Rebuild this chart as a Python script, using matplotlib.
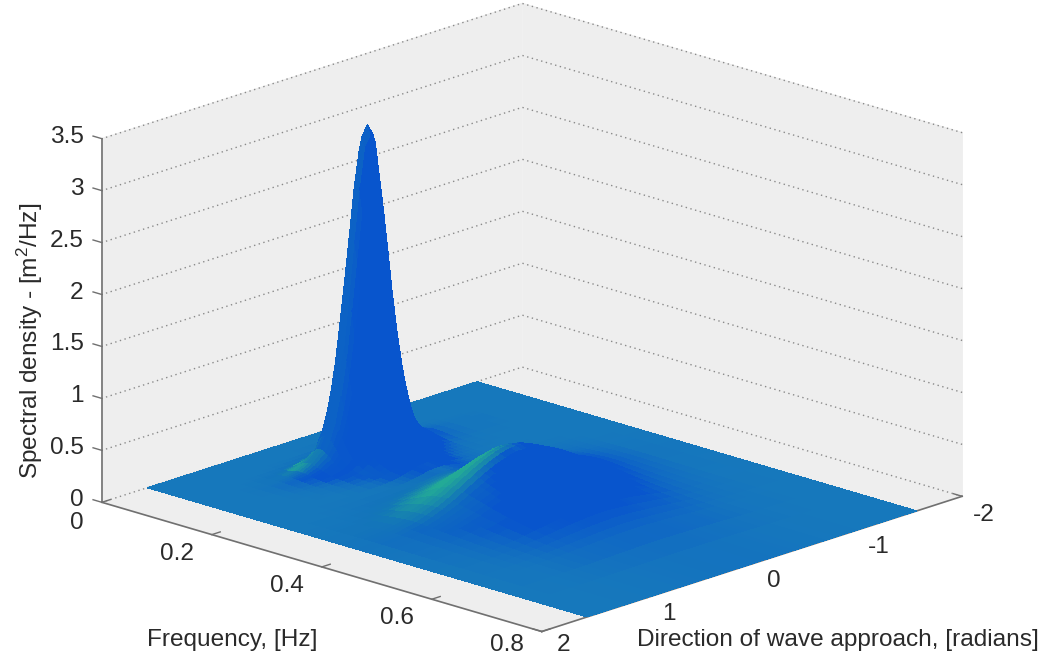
import numpy as np
import matplotlib
matplotlib.use("Agg")
import matplotlib.pyplot as plt
from mpl_toolkits.mplot3d import proj3d

plt.rcParams["font.family"] = ["Liberation Sans", "DejaVu Sans"]
plt.rcParams["mathtext.default"] = "regular"

# Surface is rebuilt from section curves:
# one f / direction pair for the tall peak, one for the low bump.
freq = [0, .03, .05, .06, .07, .08, .085, .09, .095, .10, .105, .11, .115, .12, .125, .13,
        .135, .14, .15, .16, .17, .18, .19, .20, .22, .24,
        .26, .27, .28, .29, .30, .31, .32, .33, .34, .35, .36, .37, .38, .39, .40, .41, .42,
        .43, .44, .45, .46, .47, .48, .49, .50, .52, .54, .56, .58, .60, .65, .70, .80]
peak_by_freq = [0, 0, .005, .03, .14, .55, .95, 1.48, 2.08, 2.65, 3.03, 3.17, 3.08, 2.83, 2.44, 2.02,
                1.62, 1.30, .80, .52, .36, .25, .18, .13, .085, .06,
                .04, .035, .03, .025, .02, .017, .015, .012, .01, .009, .008, .007, .006, .0055, .005, .0045, .004,
                .0035, .003, .0027, .0024, .002, .0017, .0013, .001, .0005, 0, 0, 0, 0, 0, 0, 0]
bump_by_freq = [0, 0, 0, 0, 0, 0, 0, 0, 0, 0, 0, 0, 0, 0, 0, 0,
                0, 0, 0, 0, 0, 0, 0, 0, .005, .015,
                .04, .06, .085, .12, .16, .21, .27, .33, .39, .44, .47, .49, .49, .47, .44, .41, .38,
                .35, .32, .29, .265, .24, .215, .195, .175, .14, .11, .085, .065, .05, .025, .01, 0]

direction = [-1.57, -1.4, -1.2, -1.1, -1, -.9, -.8, -.7, -.6, -.5, -.45, -.4, -.35, -.3, -.25, -.2, -.15, -.1, -.05, 0,
             .05, .1, .15, .2, .25, .3, .35, .4, .45, .5, .6, .7, .8, .9, 1, 1.1, 1.2, 1.4, 1.57]
peak_by_dir = [0, 0, 0, 0, .001, .001, .002, .004, .008, .02, .032, .05, .08, .12, .21, .33, .48, .66, .83, .97,
               1, .97, .85, .69, .52, .36, .24, .15, .095, .06, .028, .012, .006, .003, .001, 0, 0, 0, 0]
bump_by_dir = [0, .005, .02, .04, .07, .11, .17, .25, .37, .50, .57, .63, .69, .74, .79, .84, .89, .93, .97, .99,
               1, .99, .97, .94, .90, .86, .81, .76, .70, .64, .52, .40, .30, .21, .14, .09, .05, .01, 0]

freq_ticks = [0, 0.2, 0.4, 0.6, 0.8]
freq_labels = ["0", "0.2", "0.4", "0.6", "0.8"]
dir_ticks = [-2, -1, 0, 1, 2]
dir_labels = ["-2", "-1", "0", "1", "2"]
z_ticks = [0, 0.5, 1, 1.5, 2, 2.5, 3, 3.5]
z_labels = ["0", "0.5", "1", "1.5", "2", "2.5", "3", "3.5"]

FLAT = np.array([22, 120, 188]) / 255
BLUE = np.array([8, 85, 205]) / 255
GREEN = np.array([35, 170, 150]) / 255
TEXT = "#2a2a2a"
AXIS = "#707070"
FS = 17.6

f = np.array(freq)
d = np.array(direction)
Z_peak = np.outer(peak_by_freq, peak_by_dir)
Z = Z_peak + np.outer(bump_by_freq, bump_by_dir)
F, D = np.meshgrid(f, d, indexing="ij")

# fake the lit look of the original from the surface slope
dzdf, dzdd = np.gradient(Z, f, d)
sx, sy = dzdf * 0.144, dzdd * 0.72
nrm = np.sqrt(sx**2 + sy**2 + 1)
nx, ny = -sx / nrm, -sy / nrm
tall = np.clip(Z_peak / 0.3, 0, 1)
green = np.clip((ny - nx) / 1.414 / 0.5, 0, 1) * (1 - 0.85 * tall)
blue = np.maximum(np.clip(np.hypot(nx, ny) / 0.22, 0, 1), tall) * (1 - green)
colors = FLAT[None, None, :] + blue[..., None] * (BLUE - FLAT) + green[..., None] * (GREEN - FLAT)
colors = np.clip(colors, 0, 1)

fig = plt.figure(figsize=(10.43, 6.57), dpi=100)
W = 880
left = 532 - 0.5135 * W
bottom = (657 - 317.5) - 0.5135 * W
ax = fig.add_axes([left / 1043, bottom / 657, W / 1043, W / 657], projection="3d")
ax.set_proj_type("ortho")
ax.view_init(elev=17.9, azim=-46.3)
ax.set_box_aspect((1, 1, 0.628), zoom=1.0387)
ax.patch.set_alpha(0)

ax.plot_surface(F, D, Z, facecolors=colors, rstride=1, cstride=1, shade=False,
                linewidth=0, antialiased=False)

ax.set_xlim(0, 0.8)
ax.set_ylim(2, -2)
ax.set_zlim(0, 3.5)
ax.set_xticks(freq_ticks, [""] * len(freq_ticks))
ax.set_yticks(dir_ticks, [""] * len(dir_ticks))
ax.set_zticks(z_ticks, [""] * len(z_ticks))

for axis in (ax.xaxis, ax.yaxis, ax.zaxis):
    axis.set_pane_color((0.933, 0.933, 0.933, 1))
    axis.pane.set_edgecolor((0.933, 0.933, 0.933, 1))
    axis.line.set_color(AXIS)
    axis.line.set_linewidth(1.2)
    axis._axinfo["tick"]["inward_factor"] = 0
    axis._axinfo["tick"]["outward_factor"] = 0.25
    axis._axinfo["tick"]["linewidth"] = {True: 1.0, False: 0.5}
    axis._axinfo["tick"]["color"] = AXIS
    axis._axinfo["grid"]["linewidth"] = 0
ax.zaxis._axinfo["grid"].update(linewidth=1.0, linestyle=(0, (1, 2.5)), color="#8a8a8a")
ax.grid(True)
ax.zaxis.set_ticks_position("upper")
ax.tick_params(color=AXIS)

M = ax.get_proj()


def tick_text(x, y, z, label, dx, dy, ha):
    px, py, _ = proj3d.proj_transform(x, y, z, M)
    ax.annotate(label, (px, py), xytext=(dx, dy), textcoords="offset pixels", fontsize=FS,
                color=TEXT, ha=ha, va="center", annotation_clip=False)


for t, lab, dy in zip(freq_ticks, freq_labels, [-21, -19, -19, -19, -13]):
    tick_text(t, 2, 0, lab, -18, dy, "right")
for t, lab, dy in zip(dir_ticks, dir_labels, [-19, -17, -17, -16, -13]):
    tick_text(0.8, t, 0, lab, 22, dy, "center")
for t, lab in zip(z_ticks, z_labels):
    tick_text(0, 2, t, lab, -18, 2, "right")

fig.text(147 / 1043, 1 - 640 / 657, "Frequency, [Hz]", fontsize=FS, color=TEXT, va="center")
fig.text(637 / 1043, 1 - 640 / 657, "Direction of wave approach, [radians]", fontsize=FS,
         color=TEXT, va="center")
fig.text(30 / 1043, 1 - 341 / 657, "Spectral density - [m$^2$/Hz]", fontsize=FS, color=TEXT,
         rotation=90, ha="center", va="center")

fig.savefig("out.png", dpi=100)
